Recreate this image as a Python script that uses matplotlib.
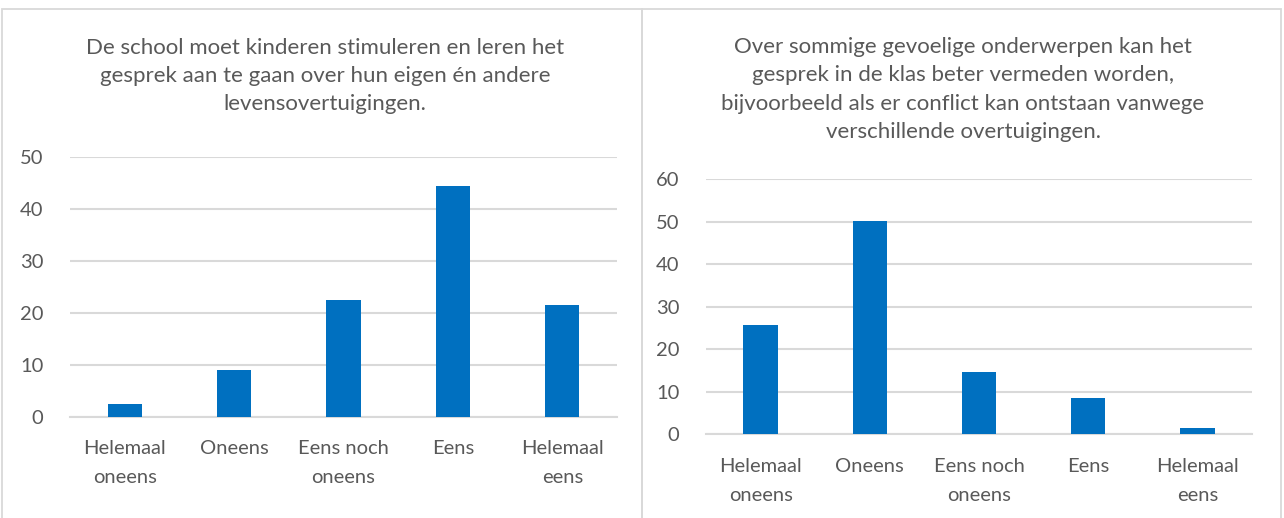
import matplotlib
matplotlib.use("Agg")
import matplotlib.pyplot as plt
from matplotlib.patches import Rectangle

plt.rcParams['font.family'] = ['Lato', 'DejaVu Sans']

# data
categories = ["Helemaal\noneens", "Oneens", "Eens noch\noneens", "Eens", "Helemaal\neens"]
waarden_links = [2.4, 8.9, 22.4, 44.4, 21.4]
waarden_rechts = [25.6, 50.1, 14.5, 8.4, 1.4]
titel_links = ("De school moet kinderen stimuleren en leren het\n"
               "gesprek aan te gaan over hun eigen én andere\n"
               "levensovertuigingen.")
titel_rechts = ("Over sommige gevoelige onderwerpen kan het\n"
                "gesprek in de klas beter vermeden worden,\n"
                "bijvoorbeeld als er conflict kan ontstaan vanwege\n"
                "verschillende overtuigingen.")

W, H = 1284, 518
blauw = "#0070C0"
grijs = "#595959"
lijn = "#D9D9D9"

fig = plt.figure(figsize=(W / 100, H / 100), dpi=100)

# panel borders
for x0, x1 in [(2, 642), (642, 1281)]:
    fig.patches.append(Rectangle((x0 / W, -0.05), (x1 - x0) / W, (H - 9) / H + 0.05,
                                 transform=fig.transFigure, fill=False,
                                 edgecolor=lijn, linewidth=1.3))


def teken(rect, waarden, ymax, titel, tx, ty):
    l, t, r, b = rect
    ax = fig.add_axes([l / W, (H - b) / H, (r - l) / W, (b - t) / H])
    x = range(len(categories))
    ax.bar(x, waarden, width=0.314, color=blauw, zorder=3)
    ax.set_xlim(-0.5, len(categories) - 0.5)
    ax.set_ylim(0, ymax)
    ax.set_yticks(range(0, ymax + 1, 10))
    ax.yaxis.grid(True, color=lijn, linewidth=1.5, zorder=0)
    ax.set_xticks(list(x))
    ax.set_xticklabels(categories, linespacing=1.85)
    ax.tick_params(axis='both', length=0, labelsize=14.5, labelcolor=grijs)
    ax.tick_params(axis='x', pad=17)
    ax.tick_params(axis='y', pad=19)
    for s in ['top', 'right', 'left']:
        ax.spines[s].set_visible(False)
    ax.spines['bottom'].set_color(lijn)
    ax.spines['bottom'].set_linewidth(1.5)
    ax.set_facecolor('none')
    fig.text(tx / W, 1 - ty / H, titel, ha='center', va='center', fontsize=16,
             color=grijs, linespacing=1.53)
    return ax


teken((70, 156.7, 617, 416.7), waarden_links, 50, titel_links, 325, 76)
teken((706, 179.3, 1252, 434), waarden_rechts, 60, titel_rechts, 963, 89.5)

fig.savefig("out.png", dpi=100)
